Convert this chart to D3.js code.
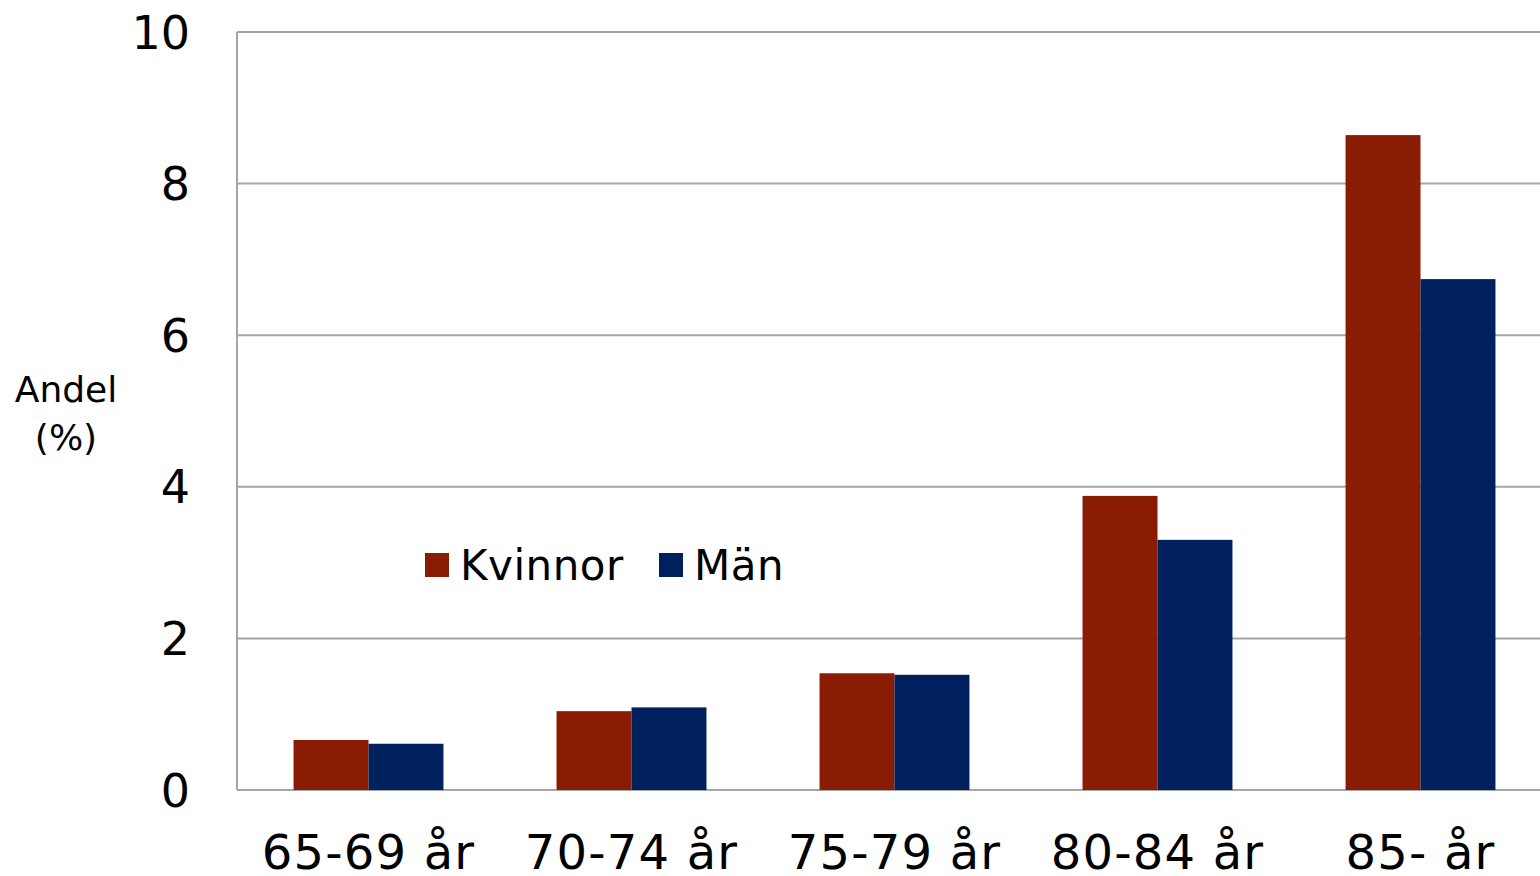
<!DOCTYPE html>
<html><head><meta charset="utf-8">
<script src="https://cdn.jsdelivr.net/npm/d3@7"></script>
<style>body{margin:0;background:#fff;overflow:hidden}svg{display:block}text{font-family:"DejaVu Sans",Verdana,sans-serif;fill:#000}</style>
</head><body>
<svg id="c" width="1540" height="876"></svg>
<script>
(function(){
const categories = ["65-69 år","70-74 år","75-79 år","80-84 år","85- år"];
const seriesNames = ["Kvinnor","Män"];
const kvinnor = [0.66, 1.04, 1.54, 3.88, 8.64];
const man = [0.61, 1.09, 1.52, 3.30, 6.74];
const yTicks = [0,2,4,6,8,10];
const colors = ["#8a1c03","#01205e"];

const svg = d3.select("#c");
const pLeft = 237, pRight = 1552, pTop = 32, pBottom = 790;
const x = d3.scaleBand().domain(categories).range([pLeft,pRight]).paddingInner(0.43).paddingOuter(0.215);
const xs = d3.scaleBand().domain(seriesNames).range([0,x.bandwidth()]);
const y = d3.scaleLinear().domain([0,10]).range([pBottom,pTop]);

svg.append("g").selectAll("line").data(yTicks).join("line")
  .attr("x1",pLeft).attr("x2",1540).attr("y1",d=>y(d)).attr("y2",d=>y(d))
  .attr("stroke","#a6a6a6").attr("stroke-width",2);
svg.append("line").attr("x1",pLeft).attr("x2",pLeft).attr("y1",pTop).attr("y2",pBottom)
  .attr("stroke","#a6a6a6").attr("stroke-width",2);

svg.append("g").selectAll("text").data(yTicks).join("text")
  .attr("x",190).attr("y",d=>y(d)).attr("dy","0.36em").attr("text-anchor","end")
  .attr("font-size",46).text(d=>d);

const data = categories.map((c,i)=>({c, vals:[kvinnor[i], man[i]]}));
const g = svg.append("g").selectAll("g").data(data).join("g")
  .attr("transform",d=>`translate(${x(d.c)},0)`);
g.selectAll("rect").data(d=>d.vals.map((v,j)=>({v,s:seriesNames[j],j}))).join("rect")
  .attr("x",d=>xs(d.s)).attr("width",xs.bandwidth())
  .attr("y",d=>y(d.v)).attr("height",d=>pBottom-y(d.v))
  .attr("fill",d=>colors[d.j]);

svg.append("g").selectAll("text").data(categories).join("text")
  .attr("x",d=>x(d)+x.bandwidth()/2).attr("y",869).attr("text-anchor","middle")
  .attr("font-size",48).attr("letter-spacing",1.2).text(d=>d);

svg.append("text").attr("x",66).attr("y",402).attr("text-anchor","middle").attr("font-size",36).text("Andel");
svg.append("text").attr("x",66).attr("y",450).attr("text-anchor","middle").attr("font-size",36).text("(%)");

const legX = [425, 659];
const lg = svg.append("g").selectAll("g").data(seriesNames).join("g")
  .attr("transform",(d,i)=>`translate(${legX[i]},553)`);
lg.append("rect").attr("width",24).attr("height",24).attr("fill",(d,i)=>colors[i]);
lg.append("text").attr("x",35).attr("y",12).attr("dy","0.36em").attr("font-size",42).attr("letter-spacing",0.5).text(d=>d);
})();
</script>
</body></html>
